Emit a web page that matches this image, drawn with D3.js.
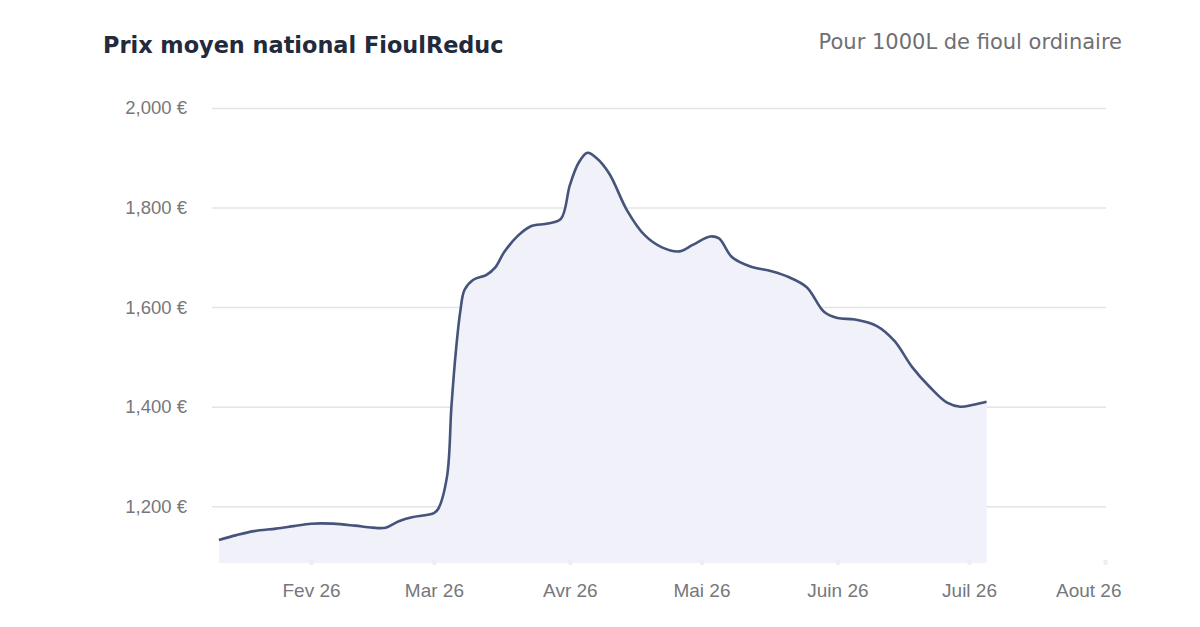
<!DOCTYPE html>
<html>
<head>
<meta charset="utf-8">
<script src="https://cdn.jsdelivr.net/npm/d3@7"></script>
<style>
  body { margin: 0; background: #fff; }
  #chart { width: 1200px; height: 627px; }
</style>
</head>
<body>
<div id="chart"></div>
<script>
// prix moyen pour 1000L
const dates = [
  "2026-01-11", "2026-01-15", "2026-01-19", "2026-01-24", "2026-01-28",
  "2026-02-01", "2026-02-06", "2026-02-11", "2026-02-15", "2026-02-18",
  "2026-02-21", "2026-02-24", "2026-02-27", "2026-03-01", "2026-03-02",
  "2026-03-04", "2026-03-05", "2026-03-06", "2026-03-07", "2026-03-08",
  "2026-03-10", "2026-03-13", "2026-03-15", "2026-03-17", "2026-03-20",
  "2026-03-23", "2026-03-27", "2026-03-30", "2026-04-01", "2026-04-03",
  "2026-04-05", "2026-04-07", "2026-04-10", "2026-04-14", "2026-04-18",
  "2026-04-22", "2026-04-26", "2026-04-29", "2026-05-03", "2026-05-05",
  "2026-05-08", "2026-05-12", "2026-05-17", "2026-05-21", "2026-05-25",
  "2026-05-29", "2026-06-01", "2026-06-05", "2026-06-10", "2026-06-14",
  "2026-06-18", "2026-06-22", "2026-06-26", "2026-06-29", "2026-07-02",
  "2026-07-05"
];
const prices = [
  1132, 1142, 1150, 1155, 1160,
  1165, 1165, 1161, 1157, 1157,
  1170, 1178, 1182, 1186, 1195,
  1260, 1400, 1510, 1590, 1635,
  1655, 1665, 1680, 1710, 1742,
  1762, 1768, 1778, 1845, 1890,
  1910, 1900, 1868, 1795, 1745,
  1720, 1712, 1725, 1742, 1738,
  1700, 1682, 1672, 1660, 1640,
  1590, 1578, 1575, 1562, 1532,
  1480, 1440, 1408, 1400, 1404,
  1410
];
const yTicks = [1200, 1400, 1600, 1800, 2000];
const monthTicks = ["2026-02-01", "2026-03-01", "2026-04-01", "2026-05-01", "2026-06-01", "2026-07-01", "2026-08-01"];
const monthLabels = ["Fev 26", "Mar 26", "Avr 26", "Mai 26", "Juin 26", "Juil 26", "Aout 26"];

const W = 1200, H = 627;
const parse = d3.timeParse("%Y-%m-%d");
const data = dates.map((d, i) => ({ date: parse(d), value: prices[i] }));

const svg = d3.select("#chart").append("svg")
  .attr("width", W).attr("height", H)
  .style("font-family", "'Liberation Sans', Arial, sans-serif");

const x = d3.scaleTime()
  .domain([new Date(2026, 0, 9, 10), parse("2026-08-01")])
  .range([212, 1105]);
const y = d3.scaleLinear()
  .domain([1086, 2000])
  .range([563, 108]);

// titre
svg.append("text")
  .attr("x", 103).attr("y", 53)
  .attr("fill", "#222a3b")
  .style("font-family", "'DejaVu Sans', sans-serif")
  .style("font-weight", 700)
  .style("font-size", "22.4px")
  .text("Prix moyen national FioulReduc");

svg.append("text")
  .attr("x", 1122).attr("y", 49)
  .attr("text-anchor", "end")
  .attr("fill", "#6f6f73")
  .style("font-family", "'DejaVu Sans', sans-serif")
  .style("font-size", "21px")
  .text("Pour 1000L de fioul ordinaire");

// grille
const grid = svg.append("g")
  .attr("transform", "translate(212,0)")
  .call(d3.axisLeft(y).tickValues(yTicks).tickSize(-894).tickFormat(""));
grid.select(".domain").remove();
grid.selectAll("line").attr("stroke", "#e4e4e6").attr("stroke-width", 1.5);

// labels axe y
svg.append("g").selectAll("text")
  .data(yTicks).join("text")
  .attr("x", 187).attr("y", d => y(d))
  .attr("dy", "0.35em")
  .attr("text-anchor", "end")
  .attr("fill", "#77777b")
  .style("font-size", "18.5px")
  .text(d => d3.format(",")(d) + " €");

// aire + courbe
const curve = d3.curveCatmullRom.alpha(0.5);
const area = d3.area()
  .x(d => x(d.date)).y0(y(1086)).y1(d => y(d.value))
  .curve(curve);
const line = d3.line()
  .x(d => x(d.date)).y(d => y(d.value))
  .curve(curve);

svg.append("path").datum(data)
  .attr("d", area)
  .attr("fill", "#f0f1f9");

svg.append("path").datum(data)
  .attr("d", line)
  .attr("fill", "none")
  .attr("stroke", "#46537a")
  .attr("stroke-width", 2.6)
  .attr("stroke-linejoin", "round");

// axe x
const xAxis = svg.append("g")
  .attr("transform", "translate(0,563)")
  .call(d3.axisBottom(x)
    .tickValues(monthTicks.map(parse))
    .tickSize(0)
    .tickPadding(21)
    .tickFormat((d, i) => monthLabels[i]));
xAxis.select(".domain").remove();
xAxis.selectAll("text")
  .attr("fill", "#77777b")
  .style("font-size", "19px")
  .style("font-family", "'Liberation Sans', Arial, sans-serif");
// le dernier label reste dans le cadre
xAxis.selectAll(".tick").filter((d, i, n) => i === n.length - 1).select("text")
  .attr("text-anchor", "end")
  .attr("x", 16);
xAxis.selectAll(".tick").append("rect")
  .attr("x", -2).attr("y", -3).attr("width", 4).attr("height", 5)
  .attr("fill", "#eeeef2");
</script>
</body>
</html>
